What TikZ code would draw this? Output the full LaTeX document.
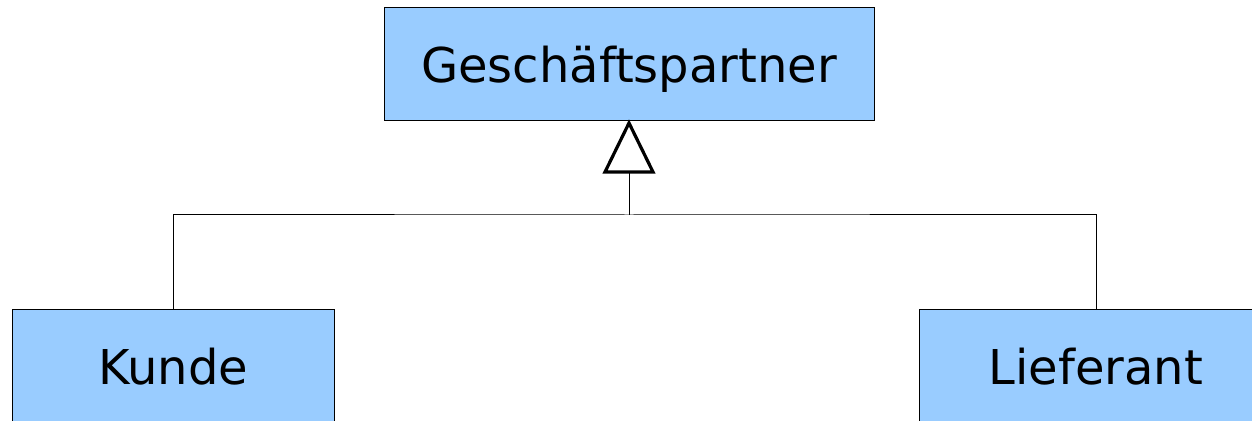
\documentclass[tikz,border=0pt]{standalone}
\usepackage{fontspec}
\setmainfont{DejaVu Sans}
\definecolor{boxblue}{HTML}{99CCFF}
\begin{document}
\begin{tikzpicture}[x=0.5pt,y=-0.5pt,
  cls/.style={draw=black,line width=0.5pt,fill=boxblue,inner sep=0pt,
    text depth=0pt,
    minimum width=#1,minimum height=56.5pt,font=\fontsize{24}{28}\selectfont},
  link/.style={draw=black,line width=0.5pt},
  gen/.style={draw=black,line width=1.6pt,fill=white,line join=miter}]
\useasboundingbox (0,0) rectangle (1252,421);
\node[cls=245pt] (gp) at (629,64.5) {Geschäftspartner};
\node[cls=161pt] (ku) at (173,366) {Kunde};
\node[cls=177pt] (li) at (1096,366) {Lieferant};
\coordinate (tip) at (629,123);
\coordinate (base) at (629,172);
\coordinate (junc) at (629,215);
\draw[link] (base) -- (junc);
\draw[link] (ku.north) |- (junc) -| (li.north);
\draw[gen] (tip) -- (605,172) -- (653,172) -- cycle;
\end{tikzpicture}
\end{document}
